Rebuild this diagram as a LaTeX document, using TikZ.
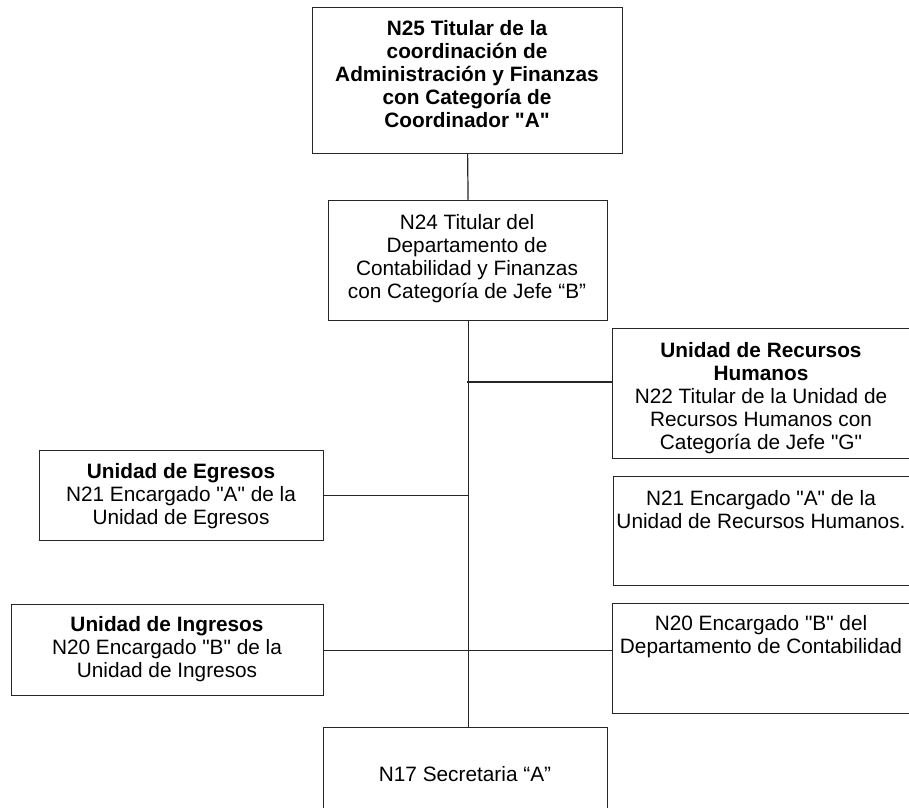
\documentclass[tikz,border=0pt]{standalone}
\usepackage{fontspec}
\setmainfont{Liberation Sans}[Ligatures=TeXOff]
\begin{document}
\begin{tikzpicture}[x=1pt,y=-1pt,
  box/.style={draw=black!85, line width=1.2pt, rectangle, anchor=north west, inner sep=0pt},
  txt/.style={align=center, inner sep=0pt, anchor=base, font=\fontsize{20.8}{23}\selectfont},
  link/.style={draw=black!85, line width=1.2pt}]
\useasboundingbox (0,0) rectangle (909,807);
\clip (0,0) rectangle (909,807);
\fill[white] (0,0) rectangle (909,807);
% boxes
\node[box, minimum width=310pt, minimum height=146pt] (top) at (312,7) {};
\node[box, minimum width=279pt, minimum height=120pt] (n24) at (328,200) {};
\node[box, minimum width=298pt, minimum height=130pt] (rh) at (612,328) {};
\node[box, minimum width=298pt, minimum height=109pt] (rhb) at (613,476) {};
\node[box, minimum width=298pt, minimum height=110pt] (dep) at (612,603) {};
\node[box, minimum width=284pt, minimum height=90pt] (egr) at (39,450) {};
\node[box, minimum width=312pt, minimum height=91pt] (ing) at (11,604) {};
\node[box, minimum width=284pt, minimum height=110pt] (sec) at (323,727) {};
% texts (anchor = baseline of the last line)
\node[txt] (ttop) at (467,127) {\bfseries N25 Titular de la\\\bfseries coordinación de\\\bfseries Administración y Finanzas\\\bfseries con Categoría de\\\bfseries Coordinador "A"};
\node[txt] (tn24) at (467,298) {N24 Titular del\\Departamento de\\Contabilidad y Finanzas\\con Categoría de Jefe “B”};
\node[txt] (trh) at (761,449) {\bfseries Unidad de Recursos\\\bfseries Humanos\\N22 Titular de la Unidad de\\Recursos Humanos con\\Categoría de Jefe "G"};
\node[txt] (trhb) at (761,528) {N21 Encargado "A" de la\\Unidad de Recursos Humanos.};
\node[txt] (tdep) at (761,653) {N20 Encargado "B" del\\Departamento de Contabilidad};
\node[txt] (tegr) at (181,524) {\bfseries Unidad de Egresos\\N21 Encargado "A" de la\\Unidad de Egresos};
\node[txt] (ting) at (167,677) {\bfseries Unidad de Ingresos\\N20 Encargado "B" de la\\Unidad de Ingresos};
\node[txt] (tsec) at (465,781) {N17 Secretaria “A”};
% connectors
\coordinate (j1) at (467,382);
\draw[link] (top.south) -- (n24.north);
\draw[link] (n24.south) -- (n24.south |- sec.north);
\draw[link] (j1) -- (j1 -| rh.west);
\draw[link] (egr.east) -- (egr.east -| n24.south);
\draw[link] (ing.east) -- (ing.east -| dep.west);
\end{tikzpicture}
\end{document}
